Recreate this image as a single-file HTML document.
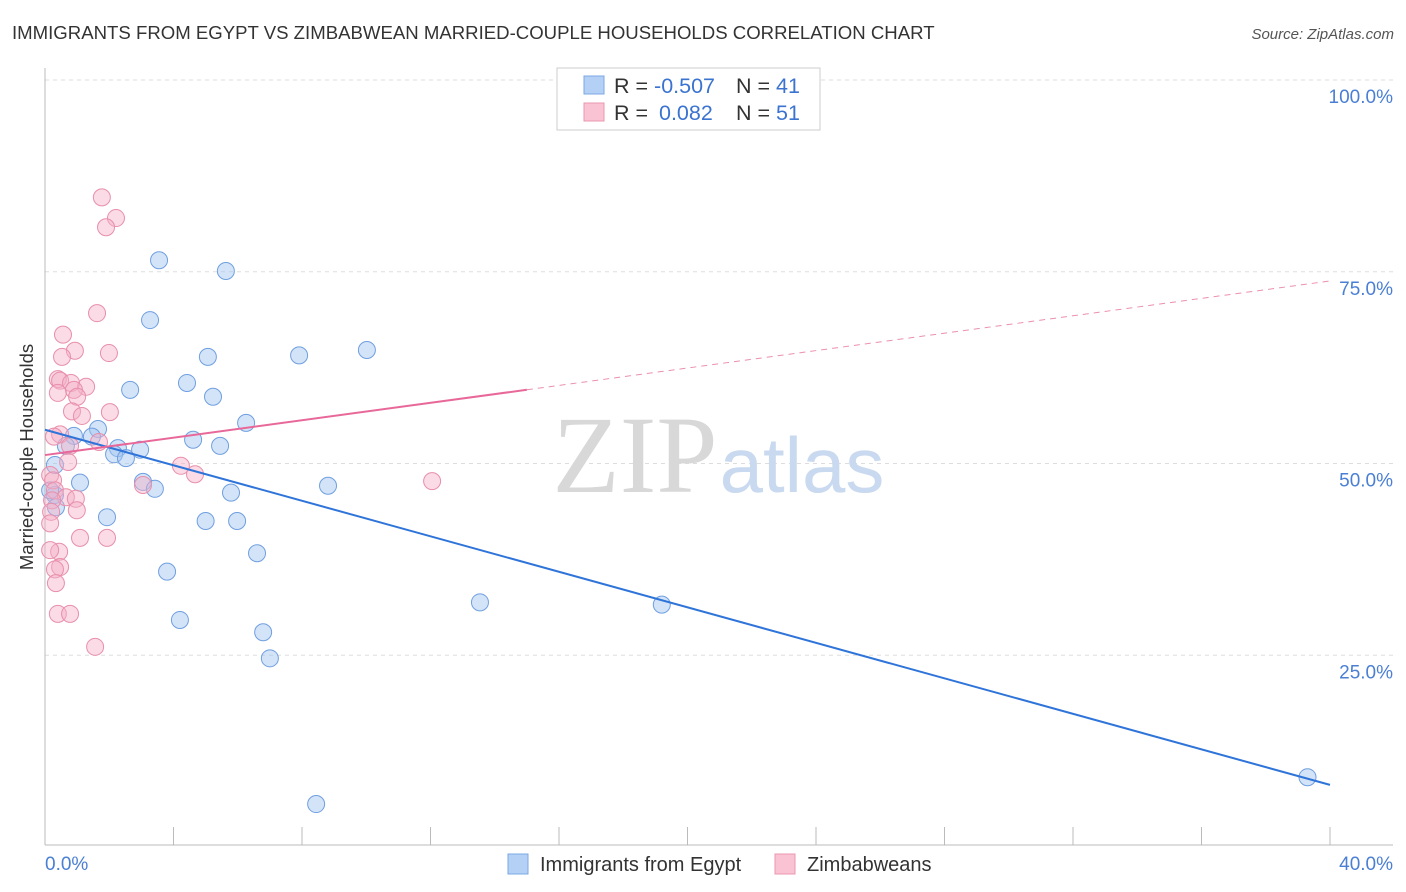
<!DOCTYPE html>
<html><head><meta charset="utf-8"><style>
body{margin:0;background:#fff;font-family:"Liberation Sans",sans-serif;}
svg{display:block}
</style></head><body>
<svg id="chart" width="1406" height="892">
<text x="12" y="39" font-size="18.6" fill="#333">IMMIGRANTS FROM EGYPT VS ZIMBABWEAN MARRIED-COUPLE HOUSEHOLDS CORRELATION CHART</text>
<text x="1394" y="39" font-size="15" fill="#555" font-style="italic" text-anchor="end">Source: ZipAtlas.com</text>
<g id="grid"></g>
<text x="635" y="492" font-size="110" fill="#d8d8d8" font-family="Liberation Serif" text-anchor="middle">ZIP</text>
<text x="802" y="492" font-size="78" fill="#c9d9ef" text-anchor="middle">atlas</text>
<line x1="45" y1="68" x2="45" y2="845" stroke="#bbb"/>
<line x1="45" y1="845" x2="1393" y2="845" stroke="#bbb"/>
<g id="ticks"></g>
<g id="pts"></g>
<g id="lines"></g>
<text x="33" y="457" font-size="18.5" fill="#333" text-anchor="middle" transform="rotate(-90 33 457)">Married-couple Households</text>
<text x="45" y="870" font-size="19" fill="#4a7fd4">0.0%</text>
<text x="1393" y="870" font-size="19" fill="#4a7fd4" text-anchor="end">40.0%</text>
<g>
<rect x="557" y="68" width="263" height="62" fill="#fff" stroke="#ccc"/>
<rect x="584" y="76" width="20" height="18" fill="#b5d0f5" stroke="#7aa7e3"/>
<rect x="584" y="103" width="20" height="18" fill="#f9c3d3" stroke="#eb97b0"/>
<text x="614" y="93" font-size="21.5" fill="#333">R = <tspan fill="#3b73d1">-0.507</tspan><tspan x="736">N = </tspan><tspan fill="#3b73d1">41</tspan></text>
<text x="614" y="120" font-size="21.5" fill="#333">R = <tspan fill="#3b73d1" x="659">0.082</tspan><tspan x="736">N = </tspan><tspan fill="#3b73d1">51</tspan></text>
</g>
<g>
<rect x="508" y="854" width="20" height="20" fill="#b5d0f5" stroke="#7aa7e3"/>
<text x="540" y="871" font-size="20" fill="#333">Immigrants from Egypt</text>
<rect x="775" y="854" width="20" height="20" fill="#f9c3d3" stroke="#eb97b0"/>
<text x="807" y="871" font-size="20" fill="#333">Zimbabweans</text>
</g>
</svg>
<script>
const yTicks=[25,50,75,100];
const xTickVals=[0,4,8,12,16,20,24,28,32,36,40];
const blueX=[3.55,5.63,3.27,5.07,7.91,10.02,2.65,4.42,5.23,6.26,1.65,0.90,1.46,4.61,5.45,0.65,2.27,2.96,2.15,2.52,0.31,3.05,1.09,3.42,8.81,5.79,0.31,0.34,1.93,5.0,5.98,6.6,3.80,13.54,19.2,4.2,6.79,7.0,8.44,39.3,0.16];
const blueY=[76.5,75.1,68.7,63.9,64.1,64.8,59.6,60.5,58.7,55.3,54.5,53.6,53.5,53.1,52.3,52.3,52.0,51.8,51.2,50.7,49.8,47.6,47.5,46.7,47.1,46.2,45.9,44.3,43.0,42.5,42.5,38.3,35.9,31.9,31.6,29.6,28.0,24.6,5.6,9.1,46.5];
const pinkX=[1.77,2.21,1.90,1.62,0.56,0.93,0.53,1.99,0.40,0.47,0.81,1.28,0.9,0.40,1.00,2.02,0.84,1.15,0.47,0.28,1.68,0.78,0.72,4.23,4.67,12.05,3.05,0.16,0.25,0.31,0.65,0.96,0.22,0.99,0.19,0.16,1.09,1.93,0.44,0.16,0.47,0.31,0.34,0.40,0.78,1.56];
const pinkY=[84.7,82.0,80.8,69.6,66.8,64.7,63.9,64.4,61.0,60.8,60.5,60.0,59.6,59.2,58.7,56.7,56.8,56.2,53.8,53.5,52.8,52.3,50.2,49.7,48.6,47.7,47.2,48.5,47.8,46.5,45.6,45.4,45.2,43.9,43.7,42.2,40.3,40.3,38.5,38.7,36.5,36.2,34.4,30.4,30.4,26.1];
const blueTrend=[54.4,8.1];
const pinkTrend=[51.1,73.8];
const pinkSolidEnd=15;
const NS='http://www.w3.org/2000/svg';
const sx=v=>45+v*32.125, sy=v=>847-v*7.67;
function mk(t,a,p){const e=document.createElementNS(NS,t);for(const k in a)e.setAttribute(k,a[k]);p.appendChild(e);return e;}
const grid=document.getElementById('grid');
yTicks.forEach(t=>{
 const l=mk('line',{x1:45,x2:1393,y1:sy(t),y2:sy(t),stroke:'#ddd','stroke-dasharray':'4,4'},grid);
 
 
 const tx=mk('text',{x:1393,y:sy(t)+23,'font-size':19,fill:'#4a7fd4','text-anchor':'end'},grid);
 tx.textContent=t.toFixed(1)+'%';
 
 
});
const ticks=document.getElementById('ticks');
xTickVals.forEach(t=>{
 const l=mk('line',{x1:sx(t),x2:sx(t),y1:827,y2:845,stroke:'#bbb'},ticks);
 
 
});
const pts=document.getElementById('pts');
blueX.forEach((x,i)=>{
 const c=mk('circle',{cx:sx(x),cy:sy(blueY[i]),r:8.5,fill:'rgba(160,195,240,0.45)',stroke:'#6f9fe0','stroke-width':1},pts);
 
 
});
pinkX.forEach((x,i)=>{
 const c=mk('circle',{cx:sx(x),cy:sy(pinkY[i]),r:8.5,fill:'rgba(245,175,200,0.45)',stroke:'#e88fab','stroke-width':1},pts);
 
 
});
const lines=document.getElementById('lines');
const bl=mk('line',{x1:sx(0),y1:sy(blueTrend[0]),x2:sx(40),y2:sy(blueTrend[1]),stroke:'#2f74d9','stroke-width':2},lines);


const pm=pinkTrend[0]+(pinkTrend[1]-pinkTrend[0])*pinkSolidEnd/40;
const pl=mk('line',{x1:sx(0),y1:sy(pinkTrend[0]),x2:sx(pinkSolidEnd),y2:sy(pm),stroke:'#e8689a','stroke-width':2},lines);


const pd=mk('line',{x1:sx(pinkSolidEnd),y1:sy(pm),x2:sx(40),y2:sy(pinkTrend[1]),stroke:'#eb8fb0','stroke-width':1,'stroke-dasharray':'6,5'},lines);


</script>
</body></html>
